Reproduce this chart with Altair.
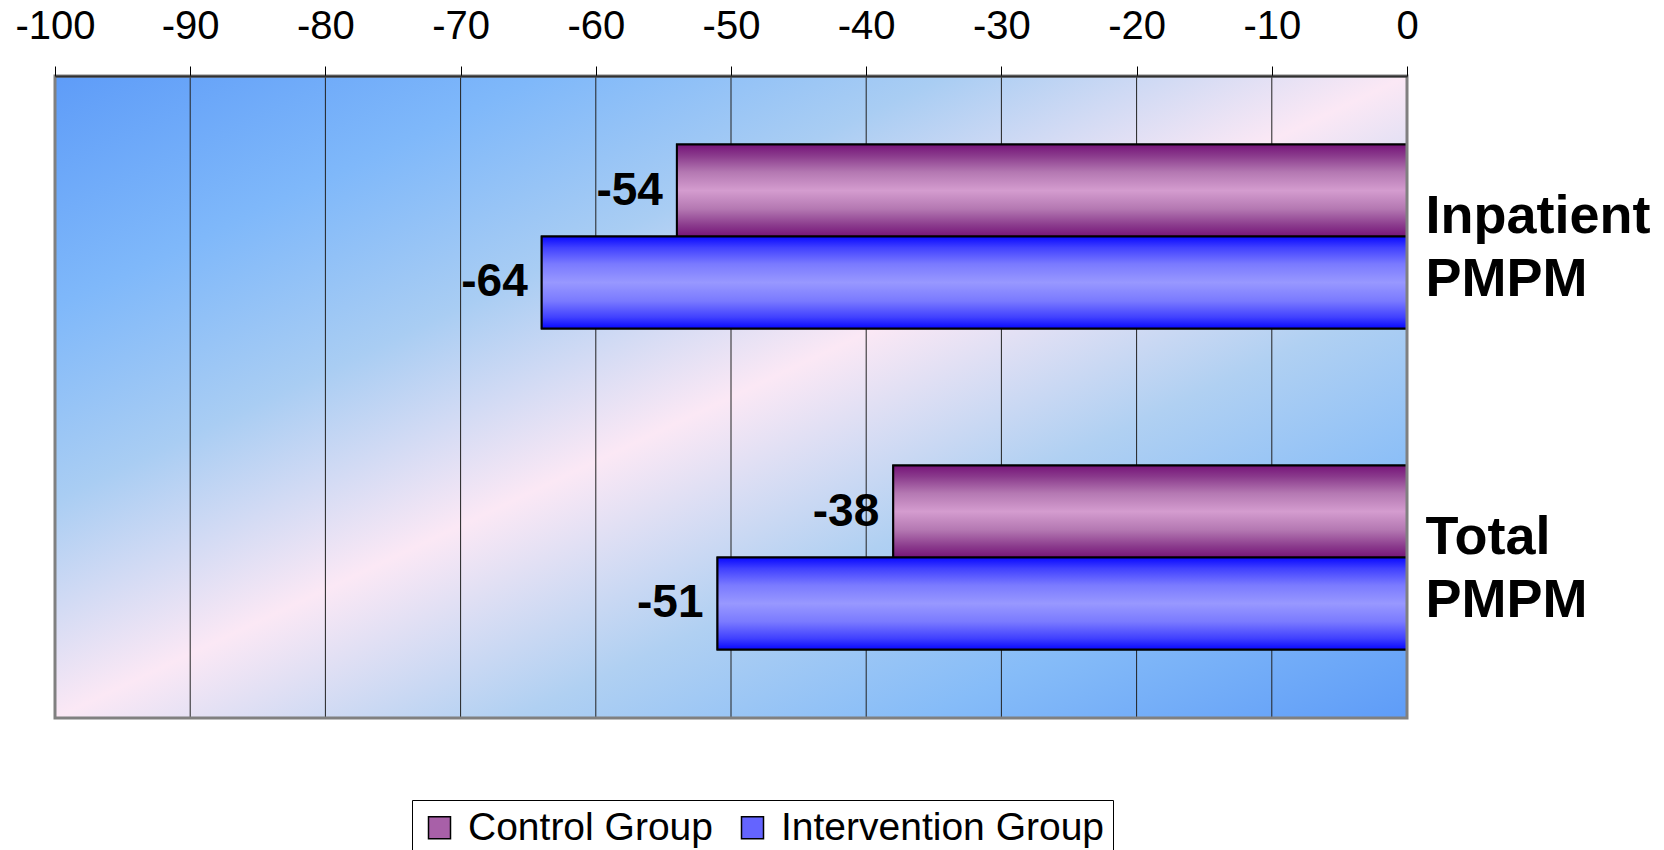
import altair as alt
import pandas as pd

# ---------------- data ----------------
categories = ["Inpatient PMPM", "Total PMPM"]
groups = ["Control Group", "Intervention Group"]
control_values = [-54, -38]
intervention_values = [-64, -51]
tick_values = [-100, -90, -80, -70, -60, -50, -40, -30, -20, -10, 0]
grid_values = [-90, -80, -70, -60, -50, -40, -30, -20, -10]

rows = []
for i, c in enumerate(categories):
    rows.append({"category": c, "group": groups[0], "value": control_values[i],
                 "label": str(control_values[i])})
    rows.append({"category": c, "group": groups[1], "value": intervention_values[i],
                 "label": str(intervention_values[i])})
df = pd.DataFrame(rows)
grid_df = pd.DataFrame({"value": grid_values})

FONT = "Liberation Sans"

# ---------------- scales / axes ----------------
x_scale = alt.Scale(domain=[-100, 0], nice=False, zero=False)
y_scale = alt.Scale(domain=categories, paddingInner=0.427, paddingOuter=0.2135)
off_scale = alt.Scale(domain=groups, paddingInner=0, paddingOuter=0)

x_axis = alt.Axis(orient="top", values=tick_values, title=None, grid=False,
                  labelExpr="'' + datum.value", labelFontSize=40, labelFont=FONT,
                  labelColor="black", labelPadding=20, labelFlush=False, labelOverlap=False,
                  tickSize=10, tickColor="black",
                  tickWidth=1, domainColor="#303030", domainWidth=2, zindex=1)
y_axis = alt.Axis(orient="right", title=None, ticks=False, domain=False,
                  labelExpr="split(datum.label, ' ')", labelFontSize=54,
                  labelFontWeight="bold", labelFont=FONT, labelColor="black",
                  labelAlign="left", labelBaseline="middle", labelPadding=18,
                  labelLineHeight=63, labelLimit=0, labelOffset=-20, zindex=1)

X = alt.X("value:Q", scale=x_scale, axis=x_axis)
Y = alt.Y("category:N", scale=y_scale, axis=y_axis, sort=categories)
YO = alt.YOffset("group:N", scale=off_scale, sort=groups)


def stops(pairs):
    return [alt.GradientStop(offset=o, color=c) for o, c in pairs]


bg_grad = alt.Gradient(gradient="linear", x1=0, y1=0, x2=1, y2=1, stops=stops([
    (0.0, "#5e9cf8"), (0.18, "#7fb8fa"), (0.33, "#a9cdf3"), (0.5, "#fbe8f5"),
    (0.67, "#b0d0f2"), (0.82, "#86bcf8"), (1.0, "#5e9cf8")]))

ctrl_grad = alt.Gradient(gradient="linear", x1=0, y1=0, x2=0, y2=1, stops=stops([
    (0.0, "#761479"), (0.12, "#8a3a8c"), (0.3, "#b478b2"), (0.5, "#d49ccf"),
    (0.7, "#b478b2"), (0.88, "#8a3a8c"), (1.0, "#761479")]))

int_grad = alt.Gradient(gradient="linear", x1=0, y1=0, x2=0, y2=1, stops=stops([
    (0.0, "#0808ff"), (0.12, "#4040ff"), (0.3, "#7a7aff"), (0.5, "#9898ff"),
    (0.7, "#7a7aff"), (0.88, "#4040ff"), (1.0, "#0808ff")]))

one = alt.Data(values=[{}])

bg = alt.Chart(one).mark_rect(fill=bg_grad).encode(
    x=alt.value(0), x2=alt.value("width"), y=alt.value(0), y2=alt.value("height"))

grid = alt.Chart(grid_df).mark_rule(color="#222222", strokeWidth=1).encode(
    x=X, y=alt.value(0), y2=alt.value("height"))

legend = alt.Legend(orient="none", legendX=357, legendY=724, direction="horizontal",
                    title=None, symbolType="square", symbolSize=484,
                    symbolStrokeColor="black", symbolStrokeWidth=1.5, symbolOpacity=1,
                    labelFontSize=39, labelFont=FONT, labelColor="black", labelLimit=0,
                    labelOffset=9, columnPadding=20, padding=8,
                    strokeColor="black", fillColor="white")

base_bars = alt.Chart(df).mark_bar(stroke="black", strokeWidth=2).encode(
    x=X, y=Y, yOffset=YO,
    color=alt.Color("group:N", scale=alt.Scale(domain=groups, range=["#a860a8", "#6464ff"]),
                    legend=legend))

ctrl_bars = alt.Chart(df).transform_filter(alt.datum.group == groups[0]).mark_bar(
    fill=ctrl_grad, stroke="black", strokeWidth=2).encode(x=X, y=Y, yOffset=YO)

int_bars = alt.Chart(df).transform_filter(alt.datum.group == groups[1]).mark_bar(
    fill=int_grad, stroke="black", strokeWidth=2).encode(x=X, y=Y, yOffset=YO)

text = alt.Chart(df).mark_text(align="right", baseline="middle", dx=-14, fontSize=46,
                               fontWeight="bold", font=FONT, color="black").encode(
    x=X, y=Y, yOffset=YO, text="label:N")

frame = alt.Chart(one).mark_rect(filled=False, stroke="#808080", strokeWidth=3).encode(
    x=alt.value(0), x2=alt.value("width"), y=alt.value(0), y2=alt.value("height"))

chart = alt.layer(bg, grid, base_bars, ctrl_bars, int_bars, text, frame).properties(
    width=1352, height=642,
    padding={"left": 55, "top": 76, "right": 257, "bottom": 132},
    autosize=alt.AutoSizeParams(type="none"),
).configure_view(stroke=None).configure(font=FONT, background="white")

chart.save("out.html", embed_options={"renderer": "svg", "actions": False})
